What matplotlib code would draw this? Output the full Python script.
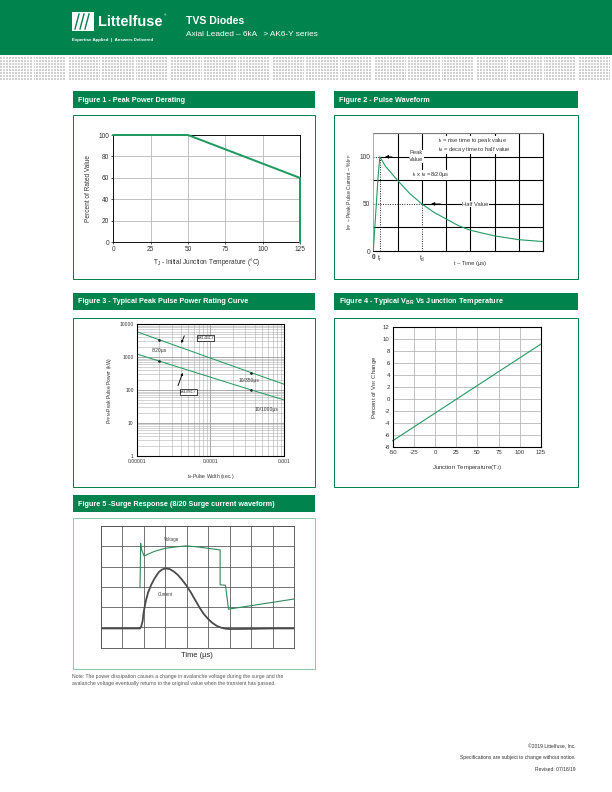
import matplotlib
matplotlib.use("Agg")
import matplotlib.pyplot as plt
import numpy as np
from matplotlib.patches import Rectangle
from matplotlib import font_manager

W, H = 612, 792
GREEN = "#00834d"
LINE_GREEN = "#1f9a60"

_names = {f.name for f in font_manager.fontManager.ttflist}
NARROW = "Liberation Sans Narrow" if "Liberation Sans Narrow" in _names else "Liberation Sans"

plt.rcParams["font.family"] = ["Liberation Sans", "DejaVu Sans"]
plt.rcParams["mathtext.fontset"] = "custom"
plt.rcParams["mathtext.rm"] = "Liberation Sans"
plt.rcParams["mathtext.it"] = "Liberation Sans:italic"
plt.rcParams["mathtext.bf"] = "Liberation Sans:bold"
plt.rcParams["axes.unicode_minus"] = False

# ---- data: figure 1 (peak power derating)
derate_temp = [0, 50, 125, 125]
derate_pct = [100, 100, 60, 0]

# ---- data: figure 2 (pulse waveform)
T_RISE = 2.7
T_DECAY = 20
pulse_t = [0, 1.0, 2.0, 2.7, 5, 10, 15, 20, 25, 30, 35, 40, 45, 50, 55, 60, 65, 70]
pulse_i = [0, 40, 80, 100, 90, 75, 61, 50, 41, 34, 27, 22, 19, 16, 14, 12, 11, 10]

# ---- data: figure 3 (peak pulse power rating)
pw_width = [1e-5, 2e-5, 3.6e-4, 1e-3]
pw_upper = [5980, 3410, 337, 150]
pw_lower = [1250, 765, 100, 50]
pw_dots = [1, 2]

# ---- data: figure 4 (VBR vs junction temperature)
vbr_temp = [-50, 125]
vbr_pct = [-7.0, 9.2]

# ---- data: figure 5 (surge response, grid units)
volt_t = [1.83, 1.86, 1.90, 2.02, 2.5, 3.0, 3.5, 4.0, 4.5, 5.0, 5.56, 5.56, 5.81, 5.95, 9.0]
volt_v = [2.96, 5.15, 4.85, 4.52, 4.75, 4.90, 4.97, 5.02, 4.97, 4.90, 4.82, 3.10, 3.08, 1.90, 2.40]
curr_t = [0, 1.83, 1.88, 1.95, 2.0, 2.1, 2.2, 2.35, 2.5, 2.7, 2.85, 3.0, 3.2, 3.4, 3.6, 3.8,
          4.0, 4.2, 4.4, 4.6, 4.8, 5.0, 5.2, 5.4, 5.6, 5.8, 6.0, 7.0, 8.0, 9.0]
curr_v = [0.95, 0.95, 1.02, 1.3, 1.75, 2.3, 2.7, 3.1, 3.4, 3.72, 3.85, 3.91, 3.88, 3.76, 3.58, 3.33,
          3.05, 2.72, 2.35, 1.98, 1.66, 1.42, 1.22, 1.08, 0.99, 0.94, 0.92, 0.93, 0.95, 0.95]

fig = plt.figure(figsize=(W / 72, H / 72), dpi=72)


def add_ax(l, t, r, b):
    return fig.add_axes([l / W, 1 - b / H, (r - l) / W, (b - t) / H])


def rect(l, t, r, b, **kw):
    fig.add_artist(Rectangle((l / W, 1 - b / H), (r - l) / W, (b - t) / H,
                             transform=fig.transFigure, **kw))


def ftext(x, y, s, **kw):
    fig.text(x / W, 1 - y / H, s, **kw)


def panel(l, t, r, b, title, box_top, box_bottom, edge=GREEN):
    rect(l, t, r, b, facecolor=GREEN, edgecolor="none")
    ftext(l + 5, (t + b) / 2 + 0.5, title, color="white", fontsize=7.2,
          fontweight="bold", va="center", family=NARROW)
    rect(l, box_top, r, box_bottom, fill=False, edgecolor=edge, lw=1.0)


# ---- page header
rect(0, 0, W, 55, facecolor=GREEN, edgecolor="none")
pat = np.ones((23, W))
for r in range(23):
    for c in range(W):
        if r % 3 != 2 and c % 3 != 2 and c % 34 < 32:
            pat[r, c] = 0.82
pax = fig.add_axes([0, 1 - 80 / H, 1, 23 / H])
pax.imshow(pat, cmap="gray", vmin=0, vmax=1, aspect="auto", interpolation="nearest")
pax.axis("off")

rect(72, 12, 94, 31, facecolor="white", edgecolor="none")
for x0 in (79, 84, 89):
    fig.add_artist(plt.Line2D([x0 / W, (x0 - 4) / W], [1 - 14 / H, 1 - 29 / H],
                              transform=fig.transFigure, color=GREEN, lw=1.4))
ftext(98, 22, "Littelfuse", color="white", fontsize=14.5, fontweight="bold",
      va="center", family=NARROW)
ftext(164, 15, "®", color="white", fontsize=3.5, va="center")
ftext(72, 40, "Expertise Applied  |  Answers Delivered", color="white", fontsize=4.4,
      va="center", fontweight="bold", family=NARROW)
ftext(186, 20.5, "TVS Diodes", color="white", fontsize=10.5, fontweight="bold", va="center")
ftext(186, 35, "Axial Leaded – 6kA   > AK6-Y series", color="white", fontsize=8.2,
      va="center", family=NARROW)

# ---- figure 1
panel(72.7, 91, 315, 108, "Figure 1 - Peak Power Derating", 115, 279)
ax1 = add_ax(113.3, 135, 300, 242.3)
ax1.plot(derate_temp, derate_pct, color=LINE_GREEN, lw=2, clip_on=False, zorder=3)
ax1.set_xlim(0, 125)
ax1.set_ylim(0, 100)
ax1.set_xticks(range(0, 126, 25))
ax1.set_yticks(range(0, 101, 20))
ax1.grid(color="#b4b4b4", lw=0.8)
ax1.set_axisbelow(True)
ax1.tick_params(labelsize=6.5, length=2, colors="#333333", pad=2)
for s in ax1.spines.values():
    s.set_linewidth(0.9)
ax1.set_ylabel("Percent of Rated Value", fontsize=6.5, color="#333333", labelpad=6)
ax1.set_xlabel("T$_\\mathrm{J}$ - Initial Junction Temperature (°C)", fontsize=6.5,
               color="#333333", labelpad=3)

# ---- figure 2
panel(334.3, 91, 577.5, 108, "Figure 2 - Pulse Waveform", 115, 279)
ax2 = add_ax(373.3, 133.3, 543.3, 251)
ax2.set_xlim(0, 70)
ax2.set_ylim(0, 125)
for xv in range(10, 71, 10):
    lo = 50 if xv == T_DECAY else 0
    ax2.plot([xv, xv], [lo, 125], color="black", lw=1.1, zorder=1)
for yv in (25, 75, 125):
    ax2.plot([0, 70], [yv, yv], color="black", lw=1.1, zorder=1)
ax2.plot([T_RISE, 70], [100, 100], color="black", lw=1.1, zorder=1)
ax2.plot([T_DECAY, 70], [50, 50], color="black", lw=1.1, zorder=1)
ax2.plot([0, T_RISE], [100, 100], color="black", lw=0.9, ls=":", zorder=2)
ax2.plot([T_RISE, T_RISE], [0, 100], color="black", lw=0.9, ls=":", zorder=2)
ax2.plot([0, T_DECAY], [50, 50], color="black", lw=0.9, ls=":", zorder=2)
ax2.plot([T_DECAY, T_DECAY], [0, 50], color="black", lw=0.9, ls=":", zorder=2)
ax2.plot(pulse_t, pulse_i, color=LINE_GREEN, lw=1.1, zorder=3)
for s in ("left", "top"):
    ax2.spines[s].set_color("#999999")
    ax2.spines[s].set_linewidth(0.8)
for s in ("right", "bottom"):
    ax2.spines[s].set_linewidth(1.1)
ax2.set_yticks([0, 50, 100])
ax2.set_yticklabels(["0", "50", "100"])
ax2.set_xticks([0, T_RISE, T_DECAY])
ax2.set_xticklabels(["0", "t$_\\mathrm{r}$", "t$_\\mathrm{d}$"])
ax2.tick_params(labelsize=6.5, length=0, pad=3, colors="#333333")
ax2.get_xticklabels()[0].set_fontweight("bold")
bb = dict(facecolor="white", edgecolor="none", pad=0.6)
ax2.annotate("", xy=(4.0, 100), xytext=(8.5, 100),
             arrowprops=dict(arrowstyle="-|>", color="black", lw=0.8, mutation_scale=7), zorder=4)
ax2.text(17.8, 100.5, "Peak\nValue", fontsize=5.8, ha="center", va="center",
         color="#333333", bbox=bb, zorder=4, linespacing=1.5)
ax2.annotate("", xy=(23.0, 50), xytext=(28.5, 50),
             arrowprops=dict(arrowstyle="-|>", color="black", lw=0.8, mutation_scale=7), zorder=4)
ax2.text(42, 49.5, "Half Value", fontsize=5.8, ha="center", va="center",
         color="#333333", bbox=bb, zorder=4)
ax2.text(26.5, 117, "t$_\\mathrm{r}$ = rise time to peak value", fontsize=5.8, va="center",
         color="#333333", bbox=bb, zorder=4)
ax2.text(26.5, 108, "t$_\\mathrm{d}$ = decay time to half value", fontsize=5.8, va="center",
         color="#333333", bbox=bb, zorder=4)
ax2.text(16, 81, "t$_\\mathrm{r}$ x t$_\\mathrm{d}$ =8/20µs", fontsize=5.8, va="center",
         color="#333333", bbox=bb, zorder=4)
ax2.set_ylabel("I$_\\mathrm{PP}$ – Peak Pulse Current – %I$_\\mathrm{PP}$", fontsize=5.3,
               color="#333333", labelpad=5)
ax2.set_xlabel("t – Time (µs)", fontsize=5.8, color="#333333", labelpad=3)
ax2.xaxis.set_label_coords(0.57, -0.085)

# ---- figure 3
panel(72.7, 293, 315, 310, "Figure 3 - Typical Peak Pulse Power Rating Curve", 318, 487)
ax3 = add_ax(136.7, 324.3, 284, 455.7)
ax3.set_xscale("log")
ax3.set_yscale("log")
ax3.set_xlim(1e-5, 1e-3)
ax3.set_ylim(1, 1e4)
ax3.grid(which="major", color="#8a8a8a", lw=0.7)
ax3.grid(which="minor", color="#a8a8a8", lw=0.5)
ax3.set_axisbelow(True)
ax3.plot(pw_width, pw_upper, color=LINE_GREEN, lw=1.0)
ax3.plot(pw_width, pw_lower, color=LINE_GREEN, lw=1.0)
ax3.plot([pw_width[i] for i in pw_dots], [pw_upper[i] for i in pw_dots], "o",
         color="#222222", ms=1.6)
ax3.plot([pw_width[i] for i in pw_dots], [pw_lower[i] for i in pw_dots], "o",
         color="#222222", ms=1.6)
ax3.set_xticks([1e-5, 1e-4, 1e-3])
ax3.set_xticklabels(["0.00001", "0.0001", "0.001"])
ax3.set_yticks([1, 10, 100, 1000, 10000])
ax3.set_yticklabels(["1", "10", "100", "1000", "10000"])
ax3.tick_params(which="both", labelsize=5, length=0, pad=3, colors="#333333")
for s in ax3.spines.values():
    s.set_linewidth(1.1)
ax3.text(1.6e-5, 1650, "8/20µs", fontsize=5, va="center", color="#333333")
ax3.text(2.4e-4, 192, "10/350µs", fontsize=5, va="center", color="#333333")
ax3.text(3.95e-4, 26.4, "10/1000µs", fontsize=5, va="center", color="#333333")
lb = dict(facecolor="white", edgecolor="black", lw=0.7, boxstyle="square,pad=0.35")
ax3.text(8.6e-5, 3750, "AK6-430C-Y", fontsize=2.8, ha="center", va="center", bbox=lb)
ax3.text(5.0e-5, 89, "AK6-076C-Y", fontsize=2.8, ha="center", va="center", bbox=lb)
ax3.annotate("", xy=(3.95e-5, 2350), xytext=(4.53e-5, 5080),
             arrowprops=dict(arrowstyle="-|>", color="black", lw=0.9, mutation_scale=4))
ax3.annotate("", xy=(4.3e-5, 379), xytext=(3.56e-5, 118),
             arrowprops=dict(arrowstyle="-|>", color="black", lw=0.9, mutation_scale=4))
ax3.set_ylabel("P$_\\mathrm{PPM}$-Peak Pulse Power (kW)", fontsize=5, color="#333333", labelpad=5)
ax3.set_xlabel("t$_\\mathrm{d}$-Pulse Width (sec.)", fontsize=5, color="#333333", labelpad=8)

# ---- figure 4
panel(334.3, 293, 577.5, 310, "Figure 4 - Typical V$_\\mathbf{BR}$ Vs Junction Temperature", 318, 487)
ax4 = add_ax(392.7, 327.3, 541, 446.7)
ax4.plot(vbr_temp, vbr_pct, color=LINE_GREEN, lw=1.1, clip_on=False)
ax4.set_xlim(-50, 125)
ax4.set_ylim(-8, 12)
ax4.set_xticks(range(-50, 126, 25))
ax4.set_yticks(range(-8, 13, 2))
ax4.grid(color="#b4b4b4", lw=0.8)
ax4.set_axisbelow(True)
ax4.tick_params(labelsize=6, length=0, pad=3, colors="#333333")
for s in ax4.spines.values():
    s.set_linewidth(1.1)
ax4.set_ylabel("Percent of V$_\\mathrm{BR}$ Change", fontsize=6, color="#333333", labelpad=4)
ax4.set_xlabel("Junction Temperature(T$_\\mathrm{J}$)", fontsize=6, color="#333333", labelpad=8)

# ---- figure 5
panel(72.7, 495, 315, 512, "Figure 5 -Surge Response (8/20 Surge current waveform)", 517.7, 669.3,
      edge="#8ccaa8")
ax5 = add_ax(100.7, 526, 294, 647.7)
ax5.set_xlim(0, 9)
ax5.set_ylim(0, 6)
ax5.set_xticks(range(10))
ax5.set_yticks(range(7))
ax5.grid(color="#555555", lw=0.8)
ax5.set_axisbelow(True)
ax5.tick_params(length=0, labelbottom=False, labelleft=False)
for s in ax5.spines.values():
    s.set_color("#555555")
    s.set_linewidth(0.9)
ax5.plot(curr_t, curr_v, color="#4a4a4a", lw=1.8)
ax5.plot(volt_t, volt_v, color="#2e8b57", lw=1.1)
ax5.text(3.3, 5.35, "Voltage", fontsize=4.5, ha="center", va="center", color="#444444")
ax5.text(3.0, 2.63, "Current", fontsize=4.5, ha="center", va="center", color="#444444")
ax5.set_xlabel("Time (µs)", fontsize=7.5, color="#222222", labelpad=4)

ftext(72, 676.5, "Note: The power dissipation causes a change in avalanche voltage during the surge and the",
      fontsize=5.1, color="#555555", va="center", family=NARROW)
ftext(72, 683.5, "avalanche voltage eventually returns to the original value when the transient has passed.",
      fontsize=5.1, color="#555555", va="center", family=NARROW)

# ---- footer
ftext(576, 747, "©2019 Littelfuse, Inc.", fontsize=5, ha="right", va="center",
      color="#333333", family=NARROW)
ftext(576, 758, "Specifications are subject to change without notice.", fontsize=5, ha="right",
      va="center", color="#333333", family=NARROW)
ftext(576, 769.5, "Revised: 07/18/19", fontsize=5, ha="right", va="center",
      color="#333333", family=NARROW)

fig.savefig("out.png", dpi=72)
